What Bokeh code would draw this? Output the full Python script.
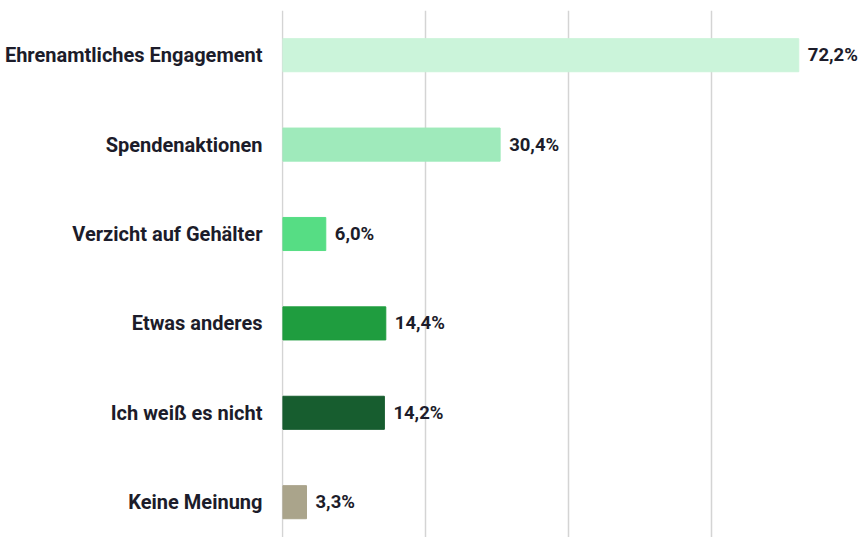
from bokeh.plotting import figure
from bokeh.models import Range1d, FixedTicker, ColumnDataSource
from bokeh.core.properties import value
from bokeh.embed import file_html
from bokeh.resources import INLINE

categories = ["Ehrenamtliches Engagement", "Spendenaktionen", "Verzicht auf Gehälter",
              "Etwas anderes", "Ich weiß es nicht", "Keine Meinung"]
values = [72.2, 30.4, 6.0, 14.4, 14.2, 3.3]
labels = ["72,2%", "30,4%", "6,0%", "14,4%", "14,2%", "3,3%"]
colors = ["#cbf4da", "#9feabb", "#56dd84", "#1f9d3f", "#175d2f", "#aaa48b"]
grid_ticks = [0, 20, 40, 60]

FONT = "Roboto"
TXT = "#1c1c2a"

pos = list(range(len(categories)))
src = ColumnDataSource(dict(y=pos, v=values, lab=labels, c=colors))

p = figure(width=859, height=537, output_backend="svg", toolbar_location=None,
           x_range=Range1d(-0.2, 80.7), y_range=Range1d(5.395, -0.5),
           x_axis_location=None, min_border_left=281, min_border_top=10,
           min_border_bottom=0, min_border_right=0)
p.outline_line_color = None
p.background_fill_color = "white"
p.border_fill_color = "white"

p.hbar(y="y", right="v", left=0, height=0.37, color="c", source=src)
p.text(x="v", y="y", text="lab", x_offset=9, text_baseline="middle", text_align="left",
       text_font=value(FONT), text_font_style="bold", text_font_size="18.5px",
       text_color=TXT, source=src)

p.xgrid.ticker = FixedTicker(ticks=grid_ticks)
p.xgrid.grid_line_color = "#d4d4d4"
p.xgrid.grid_line_width = 1.5
p.ygrid.grid_line_color = None

ya = p.yaxis[0]
ya.ticker = FixedTicker(ticks=pos)
ya.major_label_overrides = {i: c for i, c in enumerate(categories)}
ya.axis_line_color = None
ya.major_tick_line_color = None
ya.minor_tick_line_color = None
ya.major_tick_out = 0
ya.major_label_standoff = 19
ya.major_label_text_font = FONT
ya.major_label_text_font_style = "bold"
ya.major_label_text_font_size = "20px"
ya.major_label_text_color = TXT

open("out.html", "w").write(file_html(p, INLINE))
